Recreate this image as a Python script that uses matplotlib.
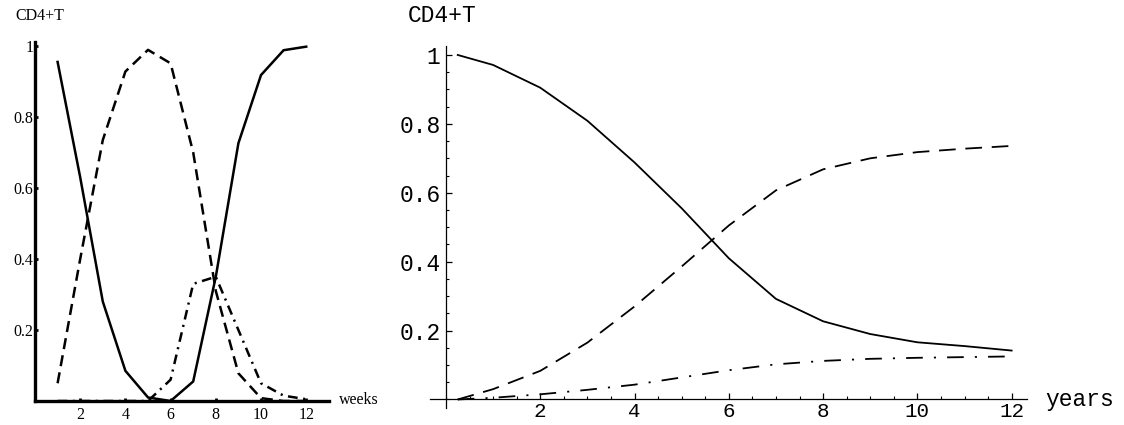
import matplotlib
matplotlib.use("Agg")
import matplotlib.pyplot as plt
import numpy as np
from matplotlib.ticker import MultipleLocator, FixedLocator

plt.rcParams['lines.scale_dashes'] = False

# left panel: weekly values
weeks = [1, 2, 3, 4, 5, 6, 7, 8, 9, 10, 11, 12]
w_solid = [0.955, 0.63, 0.28, 0.085, 0.01, 0.0, 0.055, 0.35, 0.726, 0.918, 0.988, 0.998]
w_dashed = [0.05, 0.40, 0.735, 0.928, 0.989, 0.951, 0.70, 0.31, 0.078, 0.008, 0.0, 0.0]
w_dashdot = [0.0, 0.0, 0.0, 0.0, 0.0, 0.06, 0.33, 0.35, 0.20, 0.05, 0.015, 0.005]
w_ticks = [2, 4, 6, 8, 10, 12]
w_yticks = [0.2, 0.4, 0.6, 0.8, 1.0]
w_ylabels = ["0.2", "0.4", "0.6", "0.8", "1"]

# right panel: yearly values
years = [0.25, 1, 2, 3, 4, 5, 6, 7, 8, 9, 10, 11, 12]
y_solid = [1.0, 0.971, 0.905, 0.809, 0.688, 0.555, 0.41, 0.292, 0.227, 0.19, 0.166, 0.155, 0.142]
y_dashed = [0.0, 0.03, 0.083, 0.165, 0.27, 0.386, 0.505, 0.607, 0.668, 0.70, 0.718, 0.728, 0.736]
y_dashdot = [0.0, 0.005, 0.015, 0.028, 0.043, 0.064, 0.085, 0.102, 0.112, 0.118, 0.121, 0.123, 0.125]
y_ticks = [2, 4, 6, 8, 10, 12]
y_yticks = [0.2, 0.4, 0.6, 0.8, 1.0]
y_ylabels = ["0.2", "0.4", "0.6", "0.8", "1"]

W, H = 1124, 425
fig = plt.figure(figsize=(W / 100, H / 100), dpi=100)

# ---- left panel ----
lfont = dict(family='Liberation Serif', size=11.5)
ax1 = fig.add_axes([35 / W, (H - 401) / H, 293.8 / W, 358.6 / H])
ax1.plot(weeks, w_solid, color='black', lw=1.8, solid_joinstyle='miter')
ax1.plot(weeks, w_dashed, color='black', lw=1.8, dashes=(8, 4.5))
ax1.plot(weeks, w_dashdot, color='black', lw=1.8, dashes=(7, 4, 1.5, 4))
ax1.set_xlim(0, 13.0)
ax1.set_ylim(0, 1.01)
for s in ['top', 'right']:
    ax1.spines[s].set_visible(False)
for s in ['left', 'bottom']:
    ax1.spines[s].set_linewidth(2.4)
ax1.xaxis.set_major_locator(FixedLocator(w_ticks))
ax1.set_xticklabels([str(t) for t in w_ticks], **lfont)
ax1.yaxis.set_major_locator(FixedLocator(w_yticks))
ax1.set_yticklabels(w_ylabels, **lfont)
ax1.tick_params(direction='in', length=2.5, width=2, pad=4)
ax1.tick_params(axis='y', pad=1)
fig.text(15 / W, 1 - 16.5 / H, "CD4+T", ha='left', va='center', **lfont)
fig.text(339 / W, 1 - 400 / H, "weeks", ha='left', va='center', **lfont)

# ---- right panel ----
rfont = dict(family='Liberation Mono', size=16.5)
ax2 = fig.add_axes([430.4 / W, (H - 408.1) / H, 596.8 / W, 362.1 / H])
ax2.plot(years, y_solid, color='black', lw=1.3)
ax2.plot(years, y_dashed, color='black', lw=1.3, dashes=(12, 7))
ax2.plot(years, y_dashdot, color='black', lw=1.3, dashes=(12, 8, 1.5, 8))
ax2.set_xlim(-0.33, 12.33)
ax2.set_ylim(-0.025, 1.026)
for s in ['top', 'right']:
    ax2.spines[s].set_visible(False)
ax2.spines['left'].set_position(('data', 0))
ax2.spines['bottom'].set_position(('data', 0))
for s in ['left', 'bottom']:
    ax2.spines[s].set_linewidth(0.9)
ax2.xaxis.set_major_locator(FixedLocator(y_ticks))
ax2.xaxis.set_minor_locator(MultipleLocator(0.5))
ax2.set_xticklabels([str(t) for t in y_ticks], family='Liberation Mono', size=15)
ax2.yaxis.set_major_locator(FixedLocator(y_yticks))
ax2.yaxis.set_minor_locator(MultipleLocator(0.05))
ax2.set_yticklabels(y_ylabels, **rfont)
ax2.tick_params(which='major', direction='in', length=4.5, width=0.9)
ax2.tick_params(which='minor', direction='in', length=2.5, width=0.8)
ax2.tick_params(axis='x', pad=1.5)
ax2.tick_params(axis='y', pad=4)
fig.text(408 / W, 1 - 15.5 / H, "CD4+T", ha='left', va='center', **rfont)
fig.text(1045 / W, 1 - 406 / H, "years", ha='left', va='baseline', **rfont)

fig.savefig("out.png", dpi=100)
